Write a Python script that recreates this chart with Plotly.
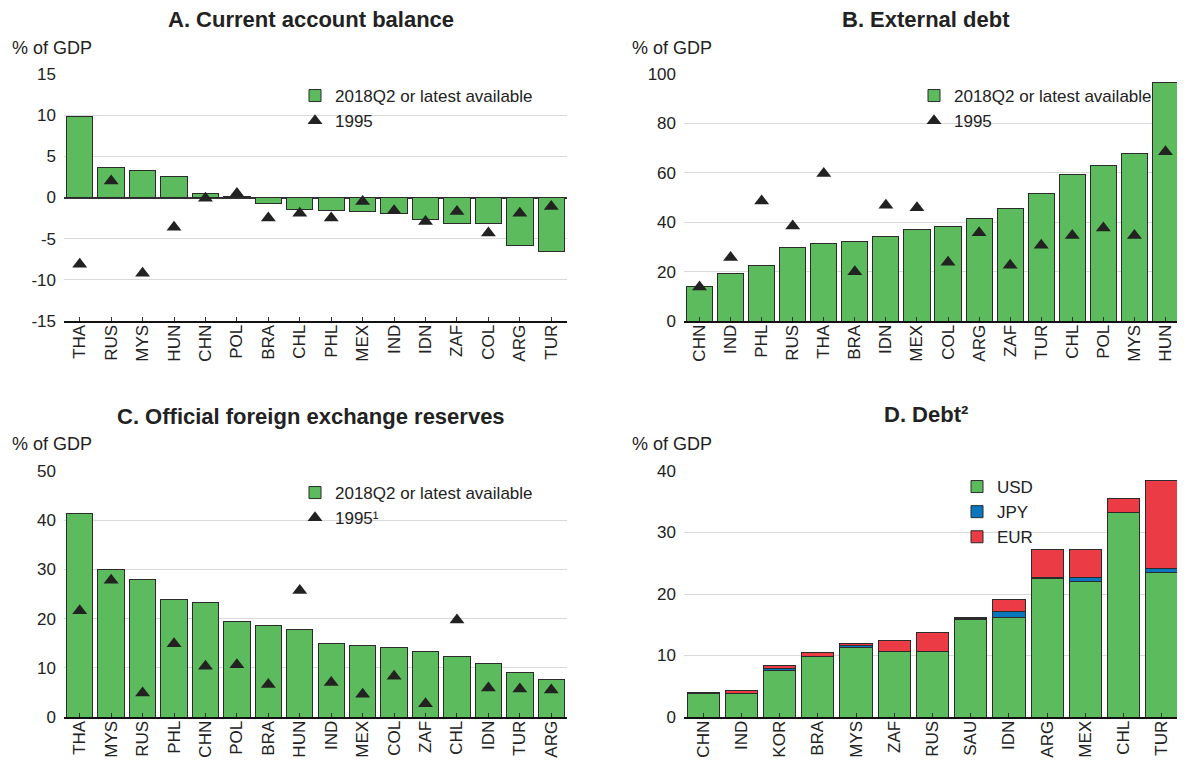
import plotly.graph_objects as go

# page coordinates are given for a 1185x763 view; the HTML body adds an 8px margin
PAGE_W, PAGE_H, OFF = 1185, 763, 8
W, H = PAGE_W - OFF, PAGE_H - OFF

# Panel A: Current account balance
a_cats = ["THA", "RUS", "MYS", "HUN", "CHN", "POL", "BRA", "CHL", "PHL", "MEX", "IND", "IDN", "ZAF", "COL", "ARG", "TUR"]
a_latest = [9.8, 3.6, 3.3, 2.5, 0.5, 0.1, -0.7, -1.4, -1.6, -1.7, -1.9, -2.7, -3.1, -3.1, -5.8, -6.5]
a_1995 = [-8.1, 2.0, -9.2, -3.6, -0.1, 0.5, -2.5, -1.9, -2.5, -0.5, -1.6, -2.9, -1.7, -4.3, -1.9, -1.1]
a_ticks = [-15, -10, -5, 0, 5, 10, 15]
a_ticktext = ["-15", "-10", "-5", "0", "5", "10", "15"]

# Panel B: External debt
b_cats = ["CHN", "IND", "PHL", "RUS", "THA", "BRA", "IDN", "MEX", "COL", "ARG", "ZAF", "TUR", "CHL", "POL", "MYS", "HUN"]
b_latest = [14.1, 19.2, 22.3, 29.7, 31.4, 32.2, 34.1, 36.9, 38.1, 41.5, 45.7, 51.6, 59.5, 62.8, 67.7, 96.5]
b_1995 = [13.8, 25.7, 48.6, 38.5, 59.7, 19.9, 46.9, 45.8, 23.8, 35.7, 22.6, 30.7, 34.6, 37.7, 34.6, 68.5]

# Panel C: Official foreign exchange reserves
c_cats = ["THA", "MYS", "RUS", "PHL", "CHN", "POL", "BRA", "HUN", "IND", "MEX", "COL", "ZAF", "CHL", "IDN", "TUR", "ARG"]
c_latest = [41.4, 30.0, 28.0, 23.9, 23.3, 19.5, 18.7, 17.8, 15.0, 14.6, 14.2, 13.4, 12.3, 10.9, 9.1, 7.7]
c_1995 = [21.6, 27.8, 4.9, 14.9, 10.3, 10.6, 6.6, 25.7, 7.0, 4.6, 8.3, 2.7, 19.7, 5.9, 5.7, 5.5]

# Panel D: Debt by currency
d_cats = ["CHN", "IND", "KOR", "BRA", "MYS", "ZAF", "RUS", "SAU", "IDN", "ARG", "MEX", "CHL", "TUR"]
d_usd = [3.8, 3.8, 7.5, 9.8, 11.3, 10.6, 10.7, 15.9, 16.2, 22.6, 22.1, 33.3, 23.5]
d_jpy = [0.1, 0.05, 0.4, 0.05, 0.4, 0.1, 0.0, 0.05, 0.9, 0.1, 0.6, 0.0, 0.7]
d_eur = [0.15, 0.45, 0.5, 0.6, 0.2, 1.8, 3.1, 0.25, 2.0, 4.5, 4.6, 2.3, 14.3]

GREEN = "#5cbb5c"
BLUE = "#0a76bd"
RED = "#eb3b44"
EDGE = "#2b2b2b"
TRI = "#222222"
FONT = "Liberation Sans"
TXT = "#222222"


def px(x):
    return (x - OFF) / W


def py(y):
    return 1 - (y - OFF) / H


fig = go.Figure()

panels = [
    ("x", "y", a_cats, a_latest, a_1995, "legend", "1995"),
    ("x2", "y2", b_cats, b_latest, b_1995, "legend2", "1995"),
    ("x3", "y3", c_cats, c_latest, c_1995, "legend3", "1995¹"),
]
for xa, ya, cats, latest, old, lg, oldname in panels:
    fig.add_trace(go.Bar(x=cats, y=latest, xaxis=xa, yaxis=ya, name="2018Q2 or latest available",
                         marker=dict(color=GREEN, line=dict(color=EDGE, width=1)), legend=lg))
    fig.add_trace(go.Scatter(x=cats, y=old, xaxis=xa, yaxis=ya, mode="markers", name=oldname,
                             marker=dict(symbol="triangle-up", size=13, color=TRI), legend=lg))

for name, vals, col in [("USD", d_usd, GREEN), ("JPY", d_jpy, BLUE), ("EUR", d_eur, RED)]:
    fig.add_trace(go.Bar(x=d_cats, y=vals, xaxis="x4", yaxis="y4", name=name,
                         marker=dict(color=col, line=dict(color=EDGE, width=1)), legend="legend4"))

xdom_l = [px(64), px(567)]
xdom_r = [px(684), px(1181)]
ydom_t = [py(321), py(74)]
ydom_b = [py(717), py(471)]

common_x = dict(showgrid=False, tickangle=-90, showline=True, linecolor="#111", linewidth=2,
                ticks="inside", ticklen=4, tickcolor="#333", automargin=False, ticklabelstandoff=-5,
                tickfont=dict(family=FONT, size=17, color=TXT), fixedrange=True)
common_y = dict(showgrid=True, gridcolor="#d9d9d9", gridwidth=1, ticks="", showline=False,
                automargin=False, ticklabelstandoff=7,
                tickfont=dict(family=FONT, size=17, color=TXT), fixedrange=True)

leg = dict(xanchor="left", yanchor="top", bgcolor="rgba(0,0,0,0)",
           font=dict(family=FONT, size=17, color=TXT), tracegroupgap=0, traceorder="normal")

fig.update_layout(
    width=W, height=H,
    margin=dict(l=0, r=0, t=0, b=0, autoexpand=False),
    paper_bgcolor="white", plot_bgcolor="white",
    barmode="stack", bargap=0.16,
    font=dict(family=FONT, size=17, color=TXT),
    xaxis=dict(domain=xdom_l, anchor="y", range=[-0.5, len(a_cats) - 0.5], **common_x),
    yaxis=dict(domain=ydom_t, anchor="x", range=[-15, 15], tickvals=a_ticks, ticktext=a_ticktext,
               zeroline=True, zerolinecolor="#333", zerolinewidth=1.5, **common_y),
    xaxis2=dict(domain=xdom_r, anchor="y2", range=[-0.5, len(b_cats) - 0.5], **common_x),
    yaxis2=dict(domain=ydom_t, anchor="x2", range=[0, 100], dtick=20, zeroline=False, **common_y),
    xaxis3=dict(domain=xdom_l, anchor="y3", range=[-0.5, len(c_cats) - 0.5], **common_x),
    yaxis3=dict(domain=ydom_b, anchor="x3", range=[0, 50], dtick=10, zeroline=False, **common_y),
    xaxis4=dict(domain=xdom_r, anchor="y4", range=[-0.5, len(d_cats) - 0.5], **common_x),
    yaxis4=dict(domain=ydom_b, anchor="x4", range=[0, 40], dtick=10, zeroline=False, **common_y),
    legend=dict(x=px(295), y=py(78), **leg),
    legend2=dict(x=px(914), y=py(78), **leg),
    legend3=dict(x=px(295), y=py(475), **leg),
    legend4=dict(x=px(957), y=py(469), **leg),
)

annotations = [
    ("<b>A. Current account balance</b>", 311, 19),
    ("<b>B. External debt</b>", 926, 19),
    ("<b>C. Official foreign exchange reserves</b>", 311, 417),
    ("<b>D. Debt²</b>", 926, 415),
]
for text, x, y in annotations:
    fig.add_annotation(text=text, x=px(x), y=py(y), xref="paper", yref="paper", showarrow=False,
                       xanchor="center", yanchor="middle", font=dict(family=FONT, size=22, color=TXT))

for x, y in [(10, 48), (630, 48), (10, 444), (630, 444)]:
    fig.add_annotation(text="% of GDP", x=px(x), y=py(y), xref="paper", yref="paper", showarrow=False,
                       xanchor="left", yanchor="middle", font=dict(family=FONT, size=18, color=TXT))

fig.write_html("out.html")
